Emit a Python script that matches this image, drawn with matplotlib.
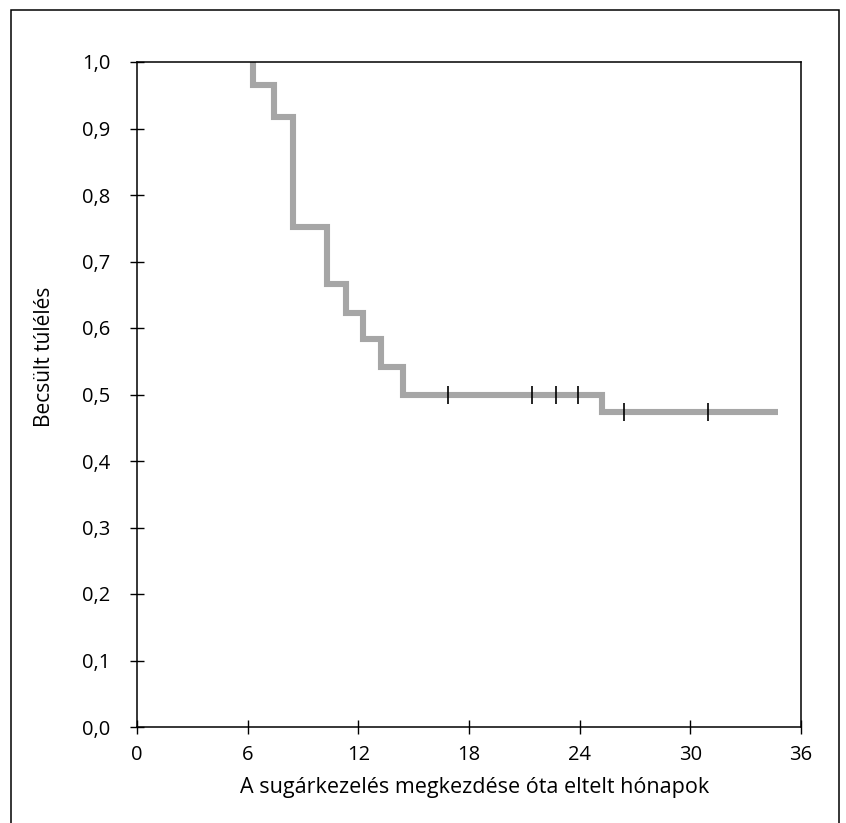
import matplotlib
matplotlib.use("Agg")
import matplotlib.pyplot as plt
from matplotlib.patches import Rectangle

# Kaplan-Meier step data
event_times = [6.27, 7.43, 8.47, 10.29, 11.32, 12.27, 13.21, 14.41, 25.23]
survival = [1.0, 0.966, 0.917, 0.752, 0.666, 0.623, 0.583, 0.541, 0.5, 0.474]
end_time = 34.78
censor_times = [16.87, 21.44, 22.72, 23.92, 26.39, 30.98]

x_ticks = [0, 6, 12, 18, 24, 30, 36]
y_ticks = [0.0, 0.1, 0.2, 0.3, 0.4, 0.5, 0.6, 0.7, 0.8, 0.9, 1.0]
y_labels = ["0,0", "0,1", "0,2", "0,3", "0,4", "0,5", "0,6", "0,7", "0,8", "0,9", "1,0"]

plt.rcParams['font.family'] = ['Open Sans', 'DejaVu Sans']

W, H = 846, 823
fig = plt.figure(figsize=(W/100, H/100), dpi=100)
L, R, T, B = 137, 801, 62, 727
ax = fig.add_axes([L/W, 1-B/H, (R-L)/W, (B-T)/H])

# build step path
xs = [event_times[0]]
ys = [survival[0]]
for t, s_prev, s_new in zip(event_times, survival[:-1], survival[1:]):
    xs += [t, t]
    ys += [s_prev, s_new]
xs.append(end_time)
ys.append(survival[-1])
ax.plot(xs, ys, color='#a6a6a6', lw=4.4, solid_joinstyle='miter', solid_capstyle='butt', zorder=2)

def surv_at(t):
    s = survival[0]
    for et, sv in zip(event_times, survival[1:]):
        if t >= et:
            s = sv
    return s

for c in censor_times:
    ax.plot([c], [surv_at(c)], marker='|', color='black', markersize=12.7, mew=1.2, zorder=3)

ax.set_xlim(0, 36)
ax.set_ylim(0, 1.0)
ax.set_xticks(x_ticks)
ax.set_xticklabels([str(v) for v in x_ticks])
ax.set_yticks(y_ticks)
ax.set_yticklabels(y_labels)
ax.tick_params(direction='inout', length=10.5, width=1.0, labelsize=14.5, colors='black')
ax.tick_params(axis='y', pad=14)
ax.tick_params(axis='x', pad=8)
for sp in ax.spines.values():
    sp.set_linewidth(1.1)
    sp.set_color('black')
ax.set_xlabel("A sugárkezelés megkezdése óta eltelt hónapok", fontsize=15.5, va='center')
ax.xaxis.set_label_coords((475-L)/(R-L), (B-788)/(B-T))
ax.set_ylabel("Becsült túlélés", fontsize=15, va='center')
ax.yaxis.set_label_coords((45-L)/(R-L), (B-357)/(B-T))

# outer frame (open at bottom)
fig.patches.append(Rectangle((11/W, -0.05), (839-11)/W, 1-10/H+0.05,
                             transform=fig.transFigure, fill=False, edgecolor='black', lw=1.1))

fig.savefig("out.png", dpi=100)
